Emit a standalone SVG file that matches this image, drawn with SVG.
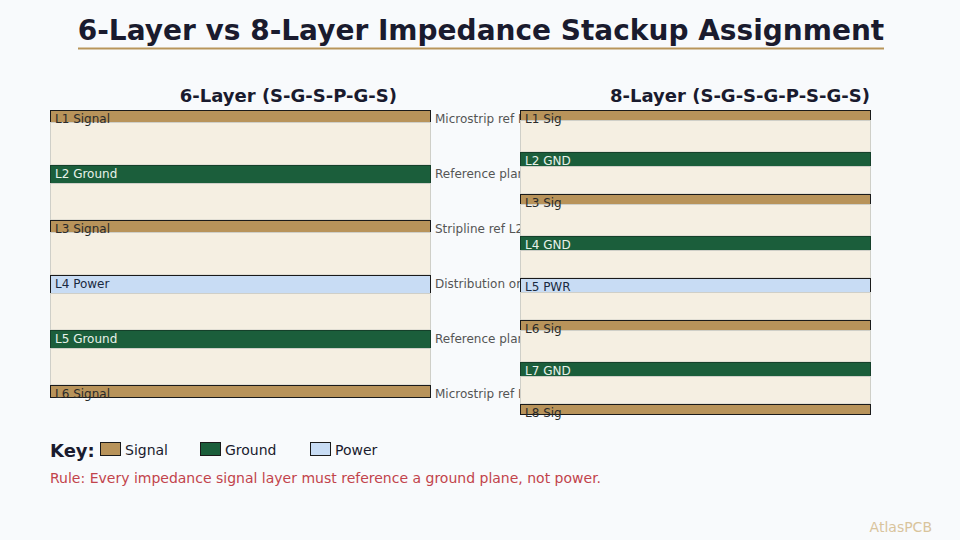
<svg xmlns="http://www.w3.org/2000/svg" width="960" height="540" viewBox="0 0 960 540">
<style>
text{font-family:"DejaVu Sans","Liberation Sans",sans-serif}
.title{font-size:28px;font-weight:bold;fill:#1a1b2e}
.sub{font-size:18px;font-weight:bold;fill:#1a1b2e}
.sig{fill:#b8935a;stroke:#1a1a1a;stroke-width:1}
.gnd{fill:#1b5e3b;stroke:#15402a;stroke-width:1}
.pwr{fill:#c8dcf4;stroke:#1a1a1a;stroke-width:1}
.diel{fill:#f5efe2;stroke:#cfcfc8;stroke-width:1}
.lab{font-size:12px}
.ls{fill:#2a2a2a}
.lg{fill:#e8f2ea}
.lp{fill:#1a2a40}
.ann{font-size:12px;fill:#555}
.key{font-size:14px;fill:#1a1b2e}
</style>
<defs>
<clipPath id="annclip"><rect x="432" y="100" width="88" height="310"/></clipPath>
</defs>
<rect width="960" height="540" fill="#f8fafc"/>
<text class="title" x="481" y="39.5" text-anchor="middle">6-Layer vs 8-Layer Impedance Stackup Assignment</text>
<line x1="78" y1="48.5" x2="884" y2="48.5" stroke="#b8955a" stroke-width="2"/>

<g id="stack6">
<text class="sub" x="397" y="102" text-anchor="end">6-Layer (S-G-S-P-G-S)</text>
<g id="s6-L1"><rect class="sig" x="50.5" y="110.5" width="380" height="12"/><rect class="diel" x="50.5" y="122.5" width="380" height="42.5"/><text class="lab ls" x="55" y="123">L1 Signal</text></g>
<g id="s6-L2"><rect class="gnd" x="50.5" y="165.5" width="380" height="18"/><rect class="diel" x="50.5" y="183.5" width="380" height="36.5"/><text class="lab lg" x="55" y="178">L2 Ground</text></g>
<g id="s6-L3"><rect class="sig" x="50.5" y="220.5" width="380" height="12"/><rect class="diel" x="50.5" y="232.5" width="380" height="42.5"/><text class="lab ls" x="55" y="233">L3 Signal</text></g>
<g id="s6-L4"><rect class="pwr" x="50.5" y="275.5" width="380" height="18"/><rect class="diel" x="50.5" y="293.5" width="380" height="36.5"/><text class="lab lp" x="55" y="288">L4 Power</text></g>
<g id="s6-L5"><rect class="gnd" x="50.5" y="330.5" width="380" height="18"/><rect class="diel" x="50.5" y="348.5" width="380" height="36.5"/><text class="lab lg" x="55" y="343">L5 Ground</text></g>
<g id="s6-L6"><rect class="sig" x="50.5" y="385.5" width="380" height="12"/><text class="lab ls" x="55" y="398">L6 Signal</text></g>
<g id="s6-ann" clip-path="url(#annclip)">
<text class="ann" x="435" y="123">Microstrip ref L2</text>
<text class="ann" x="435" y="178">Reference plane</text>
<text class="ann" x="435" y="233">Stripline ref L2</text>
<text class="ann" x="435" y="288">Distribution only</text>
<text class="ann" x="435" y="343">Reference plane</text>
<text class="ann" x="435" y="398">Microstrip ref L5</text>
</g>
</g>

<g id="stack8">
<text class="sub" x="870" y="102" text-anchor="end">8-Layer (S-G-S-G-P-S-G-S)</text>
<g id="s8-L1"><rect class="sig" x="520.5" y="110.5" width="350" height="10"/><rect class="diel" x="520.5" y="120.5" width="350" height="31.5"/><text class="lab ls" x="525" y="123">L1 Sig</text></g>
<g id="s8-L2"><rect class="gnd" x="520.5" y="152.5" width="350" height="14"/><rect class="diel" x="520.5" y="166.5" width="350" height="27.5"/><text class="lab lg" x="525" y="165">L2 GND</text></g>
<g id="s8-L3"><rect class="sig" x="520.5" y="194.5" width="350" height="10"/><rect class="diel" x="520.5" y="204.5" width="350" height="31.5"/><text class="lab ls" x="525" y="207">L3 Sig</text></g>
<g id="s8-L4"><rect class="gnd" x="520.5" y="236.5" width="350" height="14"/><rect class="diel" x="520.5" y="250.5" width="350" height="27.5"/><text class="lab lg" x="525" y="249">L4 GND</text></g>
<g id="s8-L5"><rect class="pwr" x="520.5" y="278.5" width="350" height="14"/><rect class="diel" x="520.5" y="292.5" width="350" height="27.5"/><text class="lab lp" x="525" y="291">L5 PWR</text></g>
<g id="s8-L6"><rect class="sig" x="520.5" y="320.5" width="350" height="10"/><rect class="diel" x="520.5" y="330.5" width="350" height="31.5"/><text class="lab ls" x="525" y="333">L6 Sig</text></g>
<g id="s8-L7"><rect class="gnd" x="520.5" y="362.5" width="350" height="14"/><rect class="diel" x="520.5" y="376.5" width="350" height="27.5"/><text class="lab lg" x="525" y="375">L7 GND</text></g>
<g id="s8-L8"><rect class="sig" x="520.5" y="404.5" width="350" height="10"/><text class="lab ls" x="525" y="417">L8 Sig</text></g>
</g>

<g id="key">
<text x="50" y="457" font-size="18" font-weight="bold" fill="#1a1b2e">Key:</text>
<rect class="sig" x="100.5" y="442.5" width="20" height="13"/>
<text class="key" x="125" y="455">Signal</text>
<rect class="gnd" x="200.5" y="442.5" width="20" height="13" style="stroke:#1a1a1a"/>
<text class="key" x="225" y="455">Ground</text>
<rect class="pwr" x="310.5" y="442.5" width="20" height="13"/>
<text class="key" x="335" y="455">Power</text>
</g>
<text x="50" y="483" font-size="14" fill="#c2434b">Rule: Every impedance signal layer must reference a ground plane, not power.</text>
<text x="932" y="532" font-size="14" fill="#d9c49c" text-anchor="end">AtlasPCB</text>
</svg>
